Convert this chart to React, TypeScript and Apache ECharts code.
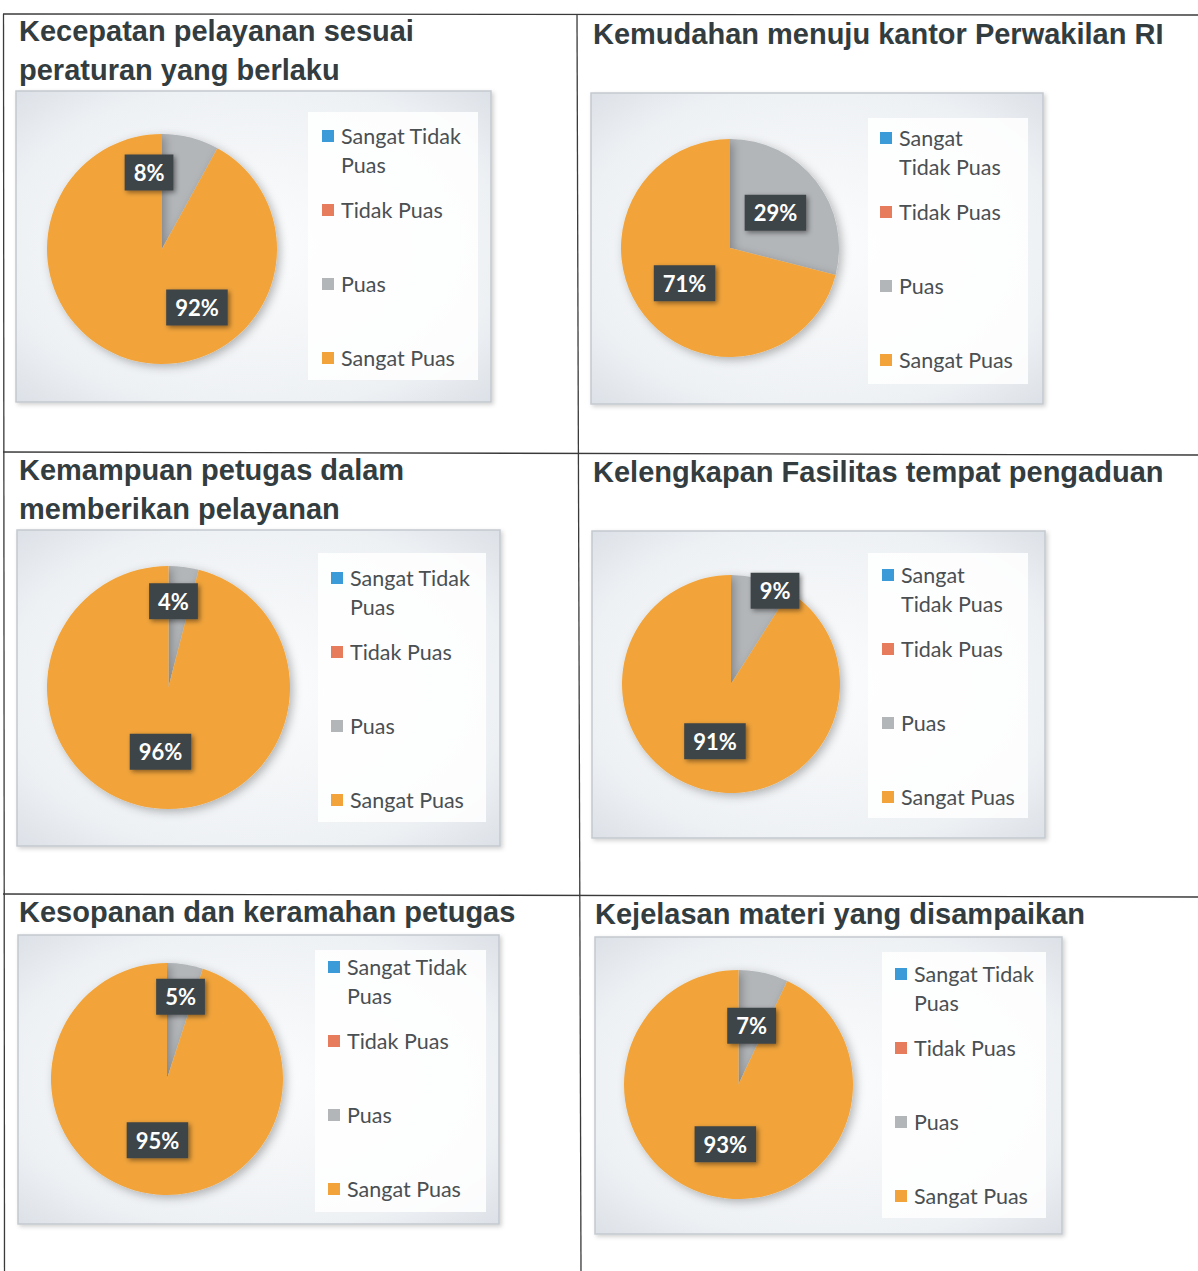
import React, { useEffect, useRef } from 'react';
import * as echarts from 'echarts';

// ---------- data ----------
const categories = ['Sangat Tidak Puas', 'Tidak Puas', 'Puas', 'Sangat Puas'];
const colors = ['#3a9bd8', '#e67c5c', '#b3b6b9', '#f2a43a'];

const titles = [
  'Kecepatan pelayanan sesuai\nperaturan yang berlaku',
  'Kemudahan menuju kantor Perwakilan RI',
  'Kemampuan petugas dalam\nmemberikan pelayanan',
  'Kelengkapan Fasilitas tempat pengaduan',
  'Kesopanan dan keramahan petugas',
  'Kejelasan materi yang disampaikan',
];

const kecepatanValues = [0, 0, 8, 92];
const kemudahanValues = [0, 0, 29, 71];
const kemampuanValues = [0, 0, 4, 96];
const kelengkapanValues = [0, 0, 9, 91];
const kesopananValues = [0, 0, 5, 95];
const kejelasanValues = [0, 0, 7, 93];

const wrapA = 'Sangat Tidak\nPuas';
const wrapB = 'Sangat\nTidak Puas';

// ---------- layout (positions / sizes only) ----------
const panels = [
  { values: kecepatanValues, wrap: wrapA, titleX: 19, titleY: 31, frame: [16, 91, 475, 311], lbox: [308, 112, 170, 268], center: [162, 249], r: 115, legX: 322, legY: 136, off: [[-28, -18], [50, 0]] },
  { values: kemudahanValues, wrap: wrapB, titleX: 593, titleY: 34, frame: [591, 93, 452, 311], lbox: [868, 118, 160, 266], center: [730, 248], r: 109, legX: 880, legY: 138, off: [[0, 0], [0, 0]] },
  { values: kemampuanValues, wrap: wrapA, titleX: 19, titleY: 470, frame: [17, 530, 483, 316], lbox: [318, 553, 168, 269], center: [168.5, 687.5], r: 121.5, legX: 331, legY: 578, off: [[-3, -23], [0, 1]] },
  { values: kelengkapanValues, wrap: wrapB, titleX: 593, titleY: 472, frame: [592, 531, 453, 307], lbox: [868, 553, 160, 265], center: [731, 684], r: 109, legX: 882, legY: 575, off: [[28, -38], [0, 2]] },
  { values: kesopananValues, wrap: wrapA, titleX: 19, titleY: 912, frame: [18, 935, 481, 289], lbox: [315, 950, 171, 262], center: [167, 1079], r: 116, legX: 328, legY: 967, off: [[4, -22], [0, 1]] },
  { values: kejelasanValues, wrap: wrapA, titleX: 595, titleY: 914, frame: [595, 937, 467, 297], lbox: [882, 952, 164, 266], center: [738.5, 1084.5], r: 114.5, legX: 895, legY: 974, off: [[0, 0], [0, 1]] },
];

const TITLE_LH = 39;
const LEG_LH = 29;

export default function App() {
  const ref = useRef<HTMLDivElement>(null);

  useEffect(() => {
    if (!ref.current) return;
    const chart = echarts.init(ref.current, undefined, { renderer: 'svg' });

    const graphics: any[] = [];
    const lineStyle = { stroke: '#3a3a3a', lineWidth: 1.3 };
    graphics.push({ type: 'line', shape: { x1: 3, y1: 14, x2: 1198, y2: 15 }, style: lineStyle });
    graphics.push({ type: 'line', shape: { x1: 3.5, y1: 14, x2: 4.5, y2: 1271 }, style: lineStyle });
    graphics.push({ type: 'line', shape: { x1: 577, y1: 14, x2: 581, y2: 1271 }, style: lineStyle });
    graphics.push({ type: 'line', shape: { x1: 3, y1: 452, x2: 1198, y2: 455 }, style: lineStyle });
    graphics.push({ type: 'line', shape: { x1: 3, y1: 894, x2: 1198, y2: 897 }, style: lineStyle });

    panels.forEach((p, i) => {
      const [fx, fy, fw, fh] = p.frame;
      graphics.push({
        type: 'rect',
        shape: { x: fx, y: fy, width: fw, height: fh },
        style: {
          fill: new echarts.graphic.RadialGradient(0.5, 0.5, 0.75, [
            { offset: 0, color: '#fbfcfd' },
            { offset: 0.7, color: '#eef1f4' },
            { offset: 1, color: '#d8dde4' },
          ]),
          stroke: '#c3c9d0',
          lineWidth: 1.5,
          shadowBlur: 4,
          shadowOffsetX: 2,
          shadowOffsetY: 2,
          shadowColor: 'rgba(0,0,0,0.18)',
        },
      });
      const [lx, ly, lw, lh] = p.lbox;
      graphics.push({
        type: 'rect',
        shape: { x: lx, y: ly, width: lw, height: lh },
        style: { fill: 'rgba(255,255,255,0.85)' },
      });
      graphics.push({
        type: 'text',
        x: p.titleX,
        y: p.titleY - TITLE_LH / 2,
        style: {
          text: titles[i],
          fontFamily: 'Liberation Sans, Arial, sans-serif',
          fontWeight: 'bold',
          fontSize: 29,
          lineHeight: TITLE_LH,
          fill: '#333d3f',
          align: 'left',
          verticalAlign: 'top',
        },
      });
    });

    // every legend entry is 3 lines tall, its first real line sitting on the icon
    const legends = panels.map((p) => ({
      orient: 'vertical',
      left: p.legX,
      top: p.legY - 43.5,
      padding: 0,
      itemWidth: 12,
      itemHeight: 12,
      itemGap: -13,
      icon: 'rect',
      selectedMode: false,
      formatter: (name: string) => (name === categories[0] ? '\n' + p.wrap : '\n' + name + '\n'),
      textStyle: {
        fontFamily: 'Lato, "Noto Sans", sans-serif',
        fontSize: 21.5,
        lineHeight: LEG_LH,
        color: '#4a4f52',
        padding: [0, 0, 0, 2],
      },
      data: categories,
    }));

    const series = panels.map((p) => ({
      type: 'pie',
      center: p.center,
      radius: p.r,
      startAngle: 90,
      clockwise: true,
      silent: true,
      itemStyle: {
        shadowBlur: 10,
        shadowOffsetX: 3,
        shadowOffsetY: 3,
        shadowColor: 'rgba(0,0,0,0.28)',
      },
      label: {
        show: true,
        position: 'inside',
        formatter: '{c}%',
        color: '#ffffff',
        fontFamily: 'Lato, "Noto Sans", sans-serif',
        fontWeight: 'bold',
        fontSize: 22,
        lineHeight: 24,
        backgroundColor: '#3e4548',
        padding: [6, 9],
        shadowBlur: 5,
        shadowOffsetX: 2,
        shadowOffsetY: 2,
        shadowColor: 'rgba(0,0,0,0.45)',
      },
      labelLine: { show: false },
      labelLayout: (params: any) => {
        const o = params.dataIndex === 2 ? p.off[0] : params.dataIndex === 3 ? p.off[1] : [0, 0];
        return { dx: o[0], dy: o[1] };
      },
      data: categories.map((c, k) => ({
        name: c,
        value: p.values[k],
        label: { show: p.values[k] > 0 },
      })),
    }));

    chart.setOption({
      animation: false,
      backgroundColor: '#ffffff',
      color: colors,
      graphic: graphics,
      legend: legends,
      series,
    });

    return () => chart.dispose();
  }, []);

  return (
    <div
      ref={ref}
      style={{ position: 'absolute', left: 0, top: 0, width: 1198, height: 1271 }}
    />
  );
}
